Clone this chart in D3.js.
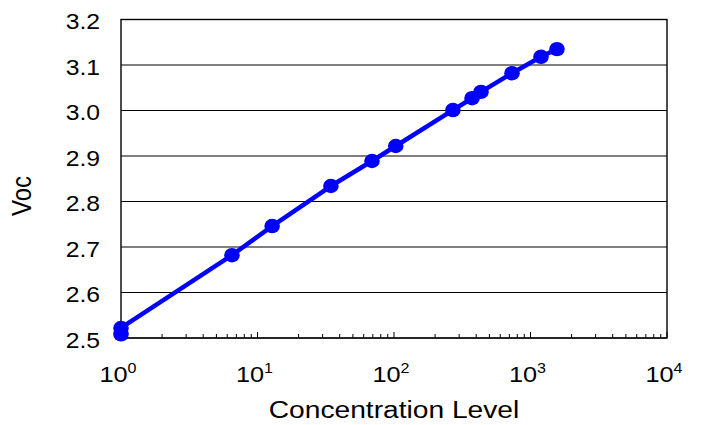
<!DOCTYPE html>
<html lang="en">
<head>
<meta charset="UTF-8">
<title>Voc vs Concentration Level</title>
<script src="https://cdn.jsdelivr.net/npm/d3@7"></script>
<style>
  body { margin: 0; background: #fff; }
  text { font-family: "Liberation Sans", Arial, sans-serif; fill: #000; }
</style>
</head>
<body>
<script>
// data
var concentration = [1, 1, 6.5, 12.8, 34.5, 69, 103, 270, 373, 434, 732, 1194, 1563];
var voc = [2.508, 2.522, 2.682, 2.746, 2.834, 2.889, 2.922, 3.001, 3.027, 3.041, 3.082, 3.118, 3.135];
var yTicks = [2.5, 2.6, 2.7, 2.8, 2.9, 3.0, 3.1, 3.2];
var xDecades = [0, 1, 2, 3, 4];

drawChart();

function drawChart() {
  var width = 701, height = 425;
  var margin = {top: 19.5, right: 34, bottom: 87, left: 121};
  var stretch = 1.15; // text in the picture is a bit wide

  var svg = d3.select("body").append("svg")
    .attr("width", width)
    .attr("height", height);

  var x = d3.scaleLog()
    .domain([1, 1e4])
    .range([margin.left, width - margin.right]);

  var y = d3.scaleLinear()
    .domain([2.5, 3.2])
    .range([height - margin.bottom, margin.top]);

  // grid lines
  svg.append("g")
    .selectAll("line")
    .data(yTicks)
    .join("line")
    .attr("x1", x(1))
    .attr("x2", x(1e4))
    .attr("y1", function (d) { return y(d); })
    .attr("y2", function (d) { return y(d); })
    .attr("stroke", "#000")
    .attr("stroke-width", 1.2);

  // minor / major ticks on x axis, pointing up
  var tickVals = [];
  for (var e = 0; e < 4; e++) {
    for (var m = 1; m < 10; m++) tickVals.push(m * Math.pow(10, e));
  }
  tickVals.push(1e4);
  svg.append("g")
    .selectAll("line")
    .data(tickVals)
    .join("line")
    .attr("x1", function (d) { return x(d); })
    .attr("x2", function (d) { return x(d); })
    .attr("y1", y(2.5))
    .attr("y2", function (d) {
      var major = Math.abs(Math.log10(d) - Math.round(Math.log10(d))) < 1e-9;
      return y(2.5) - (major ? 6 : 4);
    })
    .attr("stroke", "#000")
    .attr("stroke-width", 1);

  // plot frame
  svg.append("rect")
    .attr("x", x(1))
    .attr("y", y(3.2))
    .attr("width", x(1e4) - x(1))
    .attr("height", y(2.5) - y(3.2))
    .attr("fill", "none")
    .attr("stroke", "#000")
    .attr("stroke-width", 1.4);

  // y tick labels
  svg.append("g")
    .selectAll("text")
    .data(yTicks)
    .join("text")
    .attr("transform", function (d) {
      return "translate(" + (x(1) - 21) + "," + (y(d) + 2) + ") scale(" + stretch + ",1)";
    })
    .attr("text-anchor", "end")
    .attr("dy", "0.35em")
    .style("font-size", "21.5px")
    .text(function (d) { return d.toFixed(1); });

  // x tick labels: 10^n
  var xl = svg.append("g")
    .selectAll("text")
    .data(xDecades)
    .join("text")
    .attr("transform", function (d) {
      return "translate(" + (x(Math.pow(10, d)) - 3) + ",382) scale(" + stretch + ",1)";
    })
    .attr("text-anchor", "middle")
    .style("font-size", "22px");
  xl.append("tspan").text("10");
  xl.append("tspan")
    .attr("dy", "-9")
    .style("font-size", "14px")
    .text(function (d) { return d; });

  // axis titles
  svg.append("text")
    .attr("transform", "translate(" + ((x(1) + x(1e4)) / 2) + ",418) scale(" + stretch + ",1)")
    .attr("text-anchor", "middle")
    .style("font-size", "24.5px")
    .text("Concentration Level");

  svg.append("text")
    .attr("transform", "translate(31,196) scale(" + stretch + ",1) rotate(-90)")
    .attr("text-anchor", "middle")
    .style("font-size", "24px")
    .text("Voc");

  // series
  var pts = concentration.map(function (c, i) { return {x: c, y: voc[i]}; });

  var line = d3.line()
    .x(function (d) { return x(d.x); })
    .y(function (d) { return y(d.y); });

  svg.append("path")
    .attr("d", line(pts))
    .attr("fill", "none")
    .attr("stroke", "#0000ff")
    .attr("stroke-width", 4.5)
    .attr("stroke-linejoin", "round");

  svg.append("g")
    .selectAll("ellipse")
    .data(pts)
    .join("ellipse")
    .attr("cx", function (d) { return x(d.x); })
    .attr("cy", function (d) { return y(d.y); })
    .attr("rx", 7.8)
    .attr("ry", 7.2)
    .attr("fill", "#0000ff");
}
</script>
</body>
</html>
